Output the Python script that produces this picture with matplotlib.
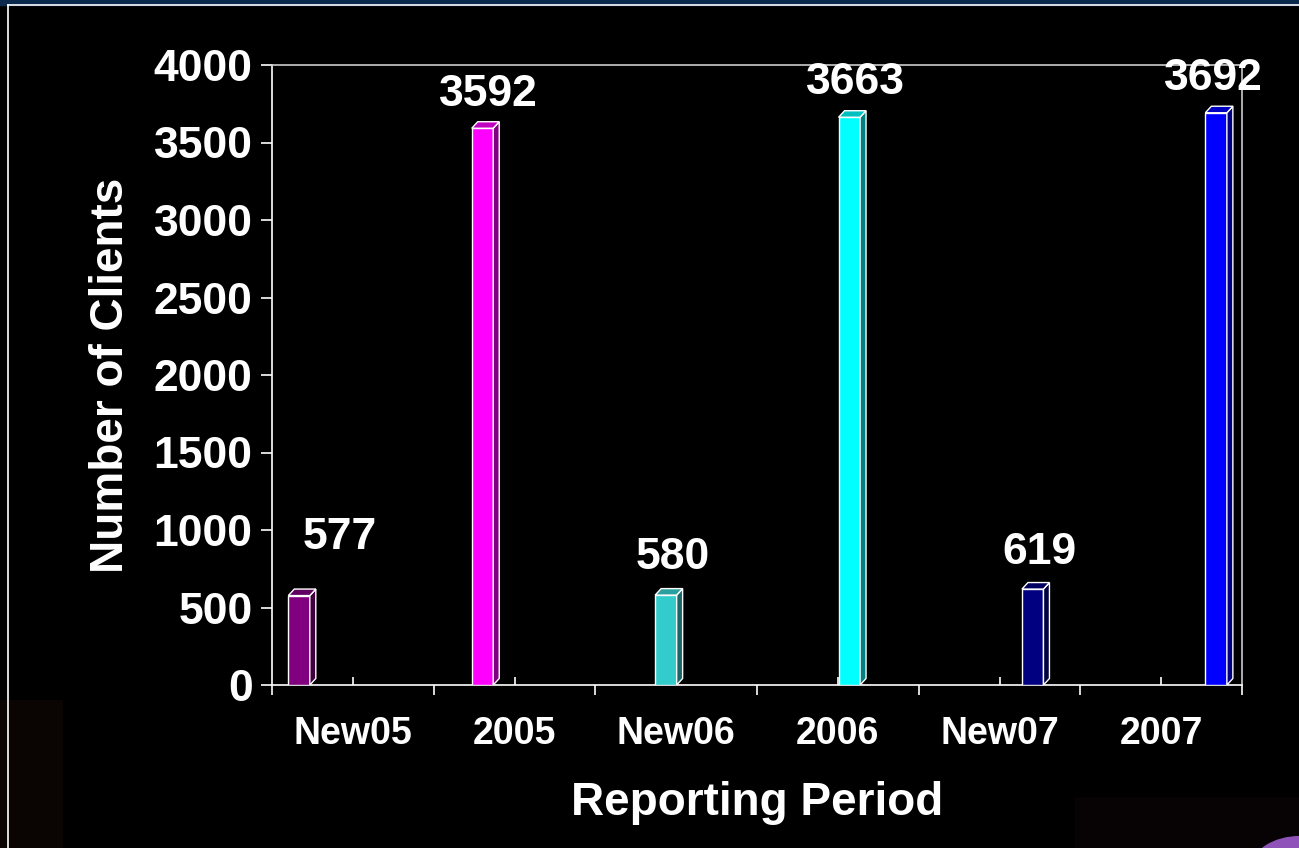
import numpy as np
import matplotlib
matplotlib.use("Agg")
import matplotlib.pyplot as plt
from matplotlib.patches import Polygon, Rectangle, Circle
from matplotlib.lines import Line2D

# data
periods = ["New05", "2005", "New06", "2006", "New07", "2007"]
clients = [577, 3592, 580, 3663, 619, 3692]
front_colors = ["#800080", "#FF00FF", "#33CCCC", "#00FFFF", "#000080", "#0000FF"]
side_colors = ["#400040", "#800080", "#1A6666", "#008080", "#000040", "#000080"]
top_colors = ["#600060", "#C000C0", "#2A9F9F", "#00BFBF", "#000060", "#0000C0"]
# label offsets in points (x, y) relative to the bar top
label_off = [(27, 42), (2, 24), (3, 27), (2, 25), (3, 26), (-4, 25)]

plt.rcParams['font.family'] = ['Liberation Sans', 'DejaVu Sans']
plt.rcParams['font.weight'] = 'bold'

fig = plt.figure(figsize=(12.99, 8.48), dpi=100, facecolor="black")

# slide decorations
fig.patches.append(Rectangle((0, 1 - 5/848), 1, 5/848, transform=fig.transFigure,
                             color="#0b2a4e", zorder=0))
fig.patches.append(Rectangle((0, 0), 62/1299, 148/848, transform=fig.transFigure,
                             color="#0a0503", zorder=0))
fig.patches.append(Rectangle((1075/1299, 0), 224/1299, 51/848, transform=fig.transFigure,
                             color="#070304", zorder=0))
fig.lines.append(Line2D([8/1299, 1], [1 - 5/848, 1 - 5/848], transform=fig.transFigure,
                        color="white", lw=1.2))
fig.lines.append(Line2D([8/1299, 8/1299], [0, 1 - 5/848], transform=fig.transFigure,
                        color="white", lw=1.2))
fig.patches.append(Circle((1300/1299, -20/848), 0.037, transform=fig.transFigure,
                          color="#8e52b8", zorder=0))

ax = fig.add_axes([272/1299, 1 - 685/848, 970/1299, 620/848])
ax.set_facecolor("black")
ax.set_xlim(0, 6)
ax.set_ylim(0, 4000)

# bar geometry
w = 0.133
dx = 0.037
dy = 42
lefts = 0.101 + np.arange(len(clients)) * 1.1345

ax.bar(lefts, clients, width=w, align="edge", color=front_colors,
       edgecolor="white", linewidth=1.0, zorder=3)
for x0, v, sc, tc in zip(lefts, clients, side_colors, top_colors):
    side = Polygon([(x0 + w, 0), (x0 + w + dx, dy), (x0 + w + dx, v + dy), (x0 + w, v)],
                   closed=True, facecolor=sc, edgecolor="white", lw=1.0, zorder=3)
    top = Polygon([(x0, v), (x0 + w, v), (x0 + w + dx, v + dy), (x0 + dx, v + dy)],
                  closed=True, facecolor=tc, edgecolor="white", lw=1.0, zorder=3)
    ax.add_patch(side)
    ax.add_patch(top)

for x0, v, (ox, oy) in zip(lefts, clients, label_off):
    ax.annotate(str(v), (x0 + (w + dx) / 2, v), xytext=(ox, oy),
                textcoords="offset points", ha="center", va="center",
                color="white", fontsize=32, fontweight="bold",
                annotation_clip=False, zorder=5)

# axes styling
for s in ax.spines.values():
    s.set_color("white")
    s.set_linewidth(1.2)
ax.spines["top"].set_color("#cccccc")
ax.spines["right"].set_color("#cccccc")

ax.set_yticks(np.arange(0, 4001, 500))
ax.tick_params(axis="y", direction="out", length=8, width=1.2, color="white",
               labelcolor="white", labelsize=32, pad=6)
for t in ax.get_yticklabels():
    t.set_fontweight("bold")

ax.set_xticks(np.arange(0, 7))
ax.set_xticklabels([])
ax.set_xticks(np.arange(len(periods)) + 0.5, minor=True)
ax.set_xticklabels(periods, minor=True)
ax.tick_params(axis="x", which="major", direction="out", length=7, width=1.2, color="white")
ax.tick_params(axis="x", which="minor", direction="in", length=6, width=1.2, color="white",
               labelcolor="white", labelsize=27, pad=22)
for t in ax.get_xticklabels(minor=True):
    t.set_fontweight("bold")

ax.set_ylabel("Number of Clients", color="white", fontsize=33, fontweight="bold", labelpad=15)
ax.set_xlabel("Reporting Period", color="white", fontsize=33, fontweight="bold", labelpad=21)

fig.savefig("out.png", dpi=100, facecolor="black")
